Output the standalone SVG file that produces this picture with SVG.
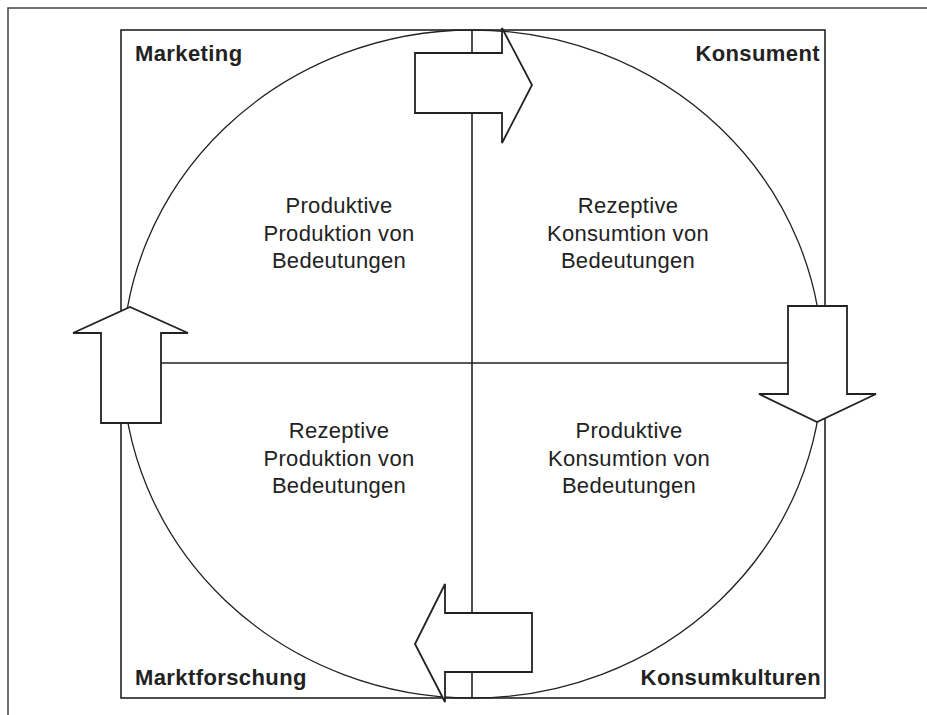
<svg xmlns="http://www.w3.org/2000/svg" width="927" height="715" viewBox="0 0 927 715">
  <style>
    .frame { fill: none; stroke: #444; stroke-width: 1.5; }
    .box { fill: none; stroke: #222; stroke-width: 1.6; }
    .axis { fill: none; stroke: #222; stroke-width: 1.6; }
    .circle { fill: none; stroke: #222; stroke-width: 1.3; }
    .arrow { fill: #fff; stroke: #222; stroke-width: 1.8; stroke-linejoin: miter; }
    .corner { font-family: "Liberation Sans", Arial, sans-serif; font-size: 22px; font-weight: bold; fill: #222; letter-spacing: 0.4px; }
    .quad { font-family: "Liberation Sans", Arial, sans-serif; font-size: 22px; fill: #222; text-anchor: middle; letter-spacing: 0.3px; }
  </style>
  <rect width="927" height="715" fill="#fff"/>
  <!-- outer page frame -->
  <path class="frame" d="M8,715 V8 H927"/>

  <!-- inner box, circle and axes -->
  <g id="connectors">
    <rect class="box" x="121" y="30" width="704" height="668"/>
    <ellipse class="circle" cx="472.5" cy="364" rx="350" ry="334"/>
    <line class="axis" x1="472" y1="30" x2="472" y2="698"/>
    <line class="axis" x1="161" y1="363" x2="788" y2="363"/>
  </g>

  <!-- cycle arrows -->
  <g id="arrow-top">
    <polygon class="arrow" points="415,53 502,53 502,28 532,85 502,143 502,113 415,113"/>
  </g>
  <g id="arrow-right">
    <polygon class="arrow" points="788,306 847,306 847,394 876,394 817,422 759,394 788,394"/>
  </g>
  <g id="arrow-bottom">
    <polygon class="arrow" points="532,613 445,613 445,584 415,644 445,702 445,672 532,672"/>
  </g>
  <g id="arrow-left">
    <polygon class="arrow" points="101,423 161,423 161,333 188,333 130,307 73,333 101,333"/>
  </g>

  <!-- corner labels -->
  <g id="marketing"><text class="corner" x="135" y="61">Marketing</text></g>
  <g id="konsument"><text class="corner" x="820" y="61" text-anchor="end">Konsument</text></g>
  <g id="marktforschung"><text class="corner" x="135" y="685">Marktforschung</text></g>
  <g id="konsumkulturen"><text class="corner" x="821" y="685" text-anchor="end">Konsumkulturen</text></g>

  <!-- quadrant labels -->
  <g id="q-top-left">
    <text class="quad" x="339" y="213">Produktive</text>
    <text class="quad" x="339" y="241">Produktion von</text>
    <text class="quad" x="339" y="268">Bedeutungen</text>
  </g>
  <g id="q-top-right">
    <text class="quad" x="628" y="213">Rezeptive</text>
    <text class="quad" x="628" y="241">Konsumtion von</text>
    <text class="quad" x="628" y="268">Bedeutungen</text>
  </g>
  <g id="q-bottom-left">
    <text class="quad" x="339" y="438">Rezeptive</text>
    <text class="quad" x="339" y="466">Produktion von</text>
    <text class="quad" x="339" y="493">Bedeutungen</text>
  </g>
  <g id="q-bottom-right">
    <text class="quad" x="629" y="438">Produktive</text>
    <text class="quad" x="629" y="466">Konsumtion von</text>
    <text class="quad" x="629" y="493">Bedeutungen</text>
  </g>
</svg>
